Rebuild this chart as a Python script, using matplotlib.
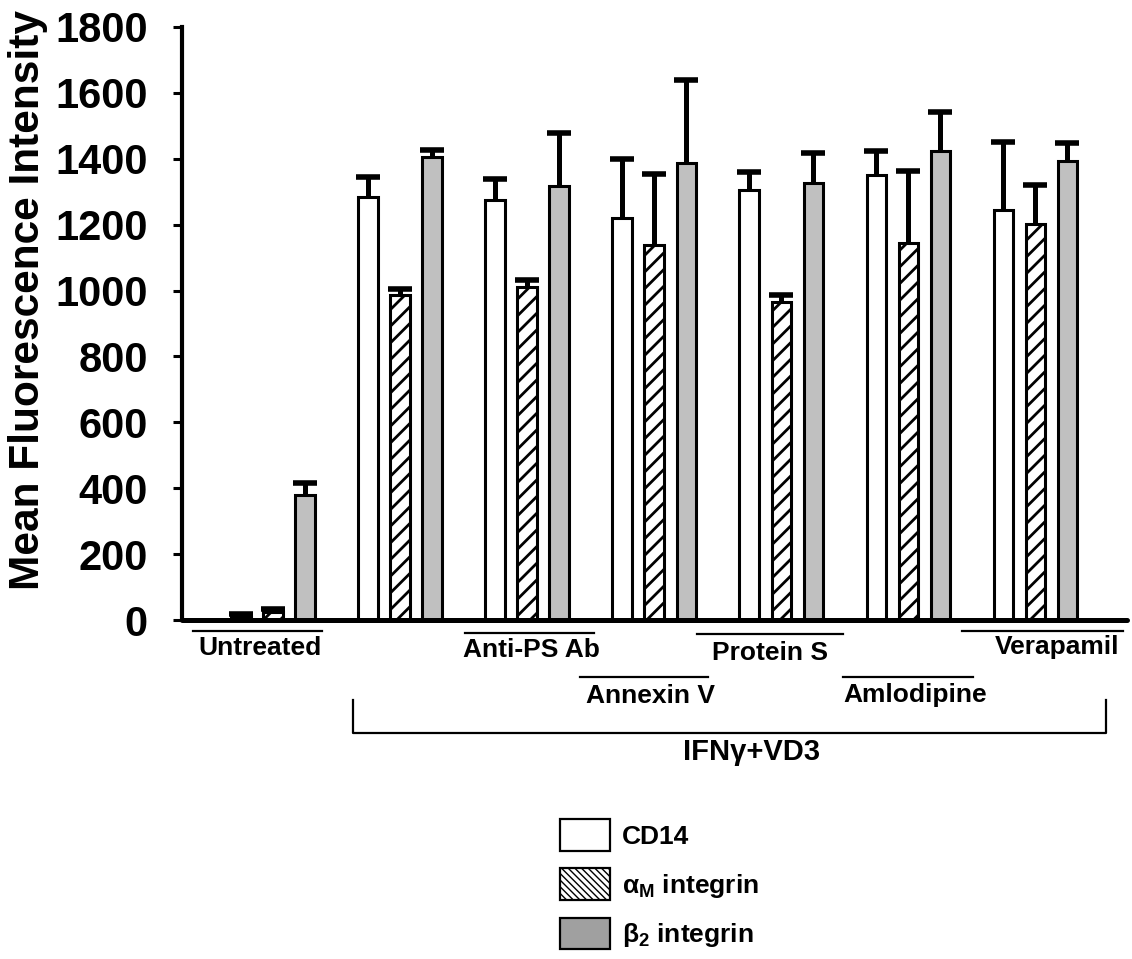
import matplotlib
matplotlib.use("Agg")
import matplotlib.pyplot as plt
import numpy as np
from matplotlib.patches import Patch
from matplotlib.lines import Line2D

plt.rcParams['font.family'] = ['Liberation Sans', 'DejaVu Sans']
plt.rcParams['font.weight'] = 'bold'
plt.rcParams['mathtext.default'] = 'regular'
plt.rcParams['hatch.linewidth'] = 2.0

# ---------------- data ----------------
groups = ["Untreated", "IFNγ+VD3", "Anti-PS Ab", "Annexin V", "Protein S", "Amlodipine", "Verapamil"]
series = ["CD14", "α$_\\mathregular{M}$ integrin", "β$_\\mathregular{2}$ integrin"]
cd14 = [10, 1285, 1274, 1220, 1305, 1351, 1244]
cd14_err = [8, 59, 64, 178, 56, 74, 206]
alpham = [25, 985, 1010, 1139, 965, 1144, 1203]
alpham_err = [7, 20, 23, 215, 20, 219, 118]
beta2 = [380, 1405, 1316, 1386, 1327, 1425, 1393]
beta2_err = [35, 22, 162, 252, 90, 117, 56]
yticks = [0, 200, 400, 600, 800, 1000, 1200, 1400, 1600, 1800]

# treatment labels below axis (figure pixel layout)
treat_labels = ["Untreated", "Anti-PS Ab", "Annexin V", "Protein S", "Amlodipine", "Verapamil"]
treat_lines = [(193, 322, 631), (465, 594, 633), (580, 708, 677), (697, 843, 634), (843, 973, 677), (962, 1123, 631)]
treat_text = [(259.5, 648), (531, 650), (651, 696), (770, 653), (915, 695), (1057, 647)]

W, H = 1132, 959
fig = plt.figure(figsize=(W / 100, H / 100), dpi=100)

def fx(px):
    return px / W

def fy(py):
    return 1 - py / H

ax = fig.add_axes([fx(182), fy(620), fx(1127) - fx(182), fy(27) - fy(620)])

x = np.arange(len(groups))
off = 0.252
bw = 0.15
vals = [cd14, alpham, beta2]
errs = [cd14_err, alpham_err, beta2_err]
faces = ["white", "white", "#c0c0c0"]
hatches = [None, "//", None]
for i in range(3):
    xs = x + (i - 1) * off
    ax.bar(xs, vals[i], width=bw, color=faces[i], edgecolor="black",
           linewidth=2.2, hatch=hatches[i], zorder=2)
    v = np.array(vals[i], float)
    e = np.array(errs[i], float)
    ax.vlines(xs, v, v + e, color="black", linewidth=3.6, zorder=3)
    ax.plot(xs, v + e, ls="none", marker="_", ms=17, mew=4.0, color="black",
            zorder=3, solid_capstyle="round")

ax.set_xlim(-0.7165, 6.724)
ax.set_ylim(0, 1800)
ax.set_yticks(yticks)
ax.set_yticklabels([str(t) for t in yticks], fontsize=30, fontweight="bold")
ax.set_xticks([])
ax.tick_params(axis="y", direction="out", length=6.5, width=2.2, pad=18)
for s in ["top", "right"]:
    ax.spines[s].set_visible(False)
ax.spines["left"].set_linewidth(3.0)
ax.spines["bottom"].set_linewidth(3.6)
ax.spines["bottom"].set_capstyle("round")

fig.text(fx(28), fy(300), "Mean Fluorescence Intensity", rotation=90,
         ha="center", va="center", fontsize=30.5, fontweight="bold")

for lab, (x0, x1, yy), (tx, ty) in zip(treat_labels, treat_lines, treat_text):
    fig.add_artist(Line2D([fx(x0), fx(x1)], [fy(yy), fy(yy)], color="black", lw=1.6))
    fig.text(fx(tx), fy(ty), lab, ha="center", va="center", fontsize=19, fontweight="bold")

# bracket for IFNγ+VD3
fig.add_artist(Line2D([fx(353), fx(353), fx(1106), fx(1106)],
                      [fy(700), fy(733), fy(733), fy(700)], color="black", lw=1.6))
fig.text(fx(751), fy(752), groups[1], ha="center", va="center", fontsize=21, fontweight="bold")

# legend
with plt.rc_context({"hatch.linewidth": 1.0}):
    handles = [Patch(facecolor="white", edgecolor="black", linewidth=1.6),
               Patch(facecolor="white", edgecolor="black", linewidth=1.6, hatch="\\\\\\\\\\"),
               Patch(facecolor="#a0a0a0", edgecolor="black", linewidth=1.6)]
    leg = fig.legend(handles, series, loc="upper left",
                     bbox_to_anchor=(fx(560), fy(819)), frameon=False,
                     prop={"size": 19, "weight": "bold"},
                     handlelength=1.9, handleheight=1.48, labelspacing=0.66,
                     handletextpad=0.45, borderpad=0, borderaxespad=0)

fig.savefig("out.png", dpi=100)
